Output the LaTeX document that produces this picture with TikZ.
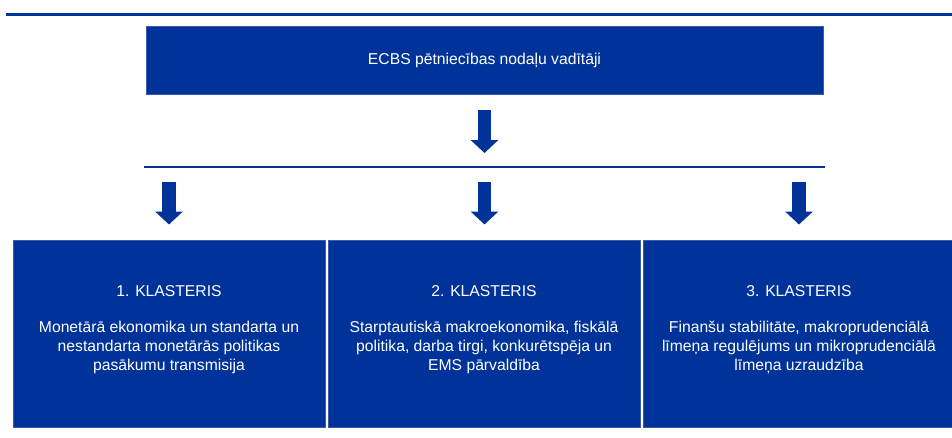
\documentclass[tikz,border=0pt]{standalone}
\usepackage{fontspec}
\setmainfont{Liberation Sans}
\usepackage{xcolor}
\usetikzlibrary{arrows.meta,calc,positioning}
\definecolor{ecbzils}{RGB}{0,51,153}
\definecolor{ecbmala}{RGB}{60,90,170}
\tikzset{
  bloks/.style={fill=ecbzils,draw=ecbmala,line width=0.7pt,inner sep=0pt},
  teksts/.style={text=white,font=\fontsize{15.7}{19}\selectfont,align=center,inner sep=0pt},
  bulta/.style={ecbzils,line width=13.5pt,-{Triangle[width=27pt,length=13pt]}},
  linija/.style={ecbzils,line width=2pt}
}

\begin{document}
\begin{tikzpicture}[x=1pt,y=-1pt]
\useasboundingbox (0,0) rectangle (952,437);
% augšējā līnija
\coordinate (l0) at (6,14);
\coordinate (l1) at (952,14);
\draw[ecbzils,line width=3pt] (l0) -- (l1);
% vadītāju bloks
\node[bloks,minimum width=677pt,minimum height=68pt] (vad) at (484.5,60) {};
\node[teksts] (vadt) at (vad.center) {ECBS pētniecības nodaļu vadītāji};
% bulta uz sadales līniju
\coordinate (b0s) at (484.5,110);
\coordinate (b0e) at (484.5,153);
\draw[bulta] (b0s) -- (b0e);
\coordinate (s0) at (144,167);
\coordinate (s1) at (825,167);
\draw[linija] (s0) -- (s1);
% klasteri
\foreach \i/\x/\bx/\virs/\saturs in {
  1/169/169/1. KLASTERIS/{Monetārā ekonomika un standarta un\\nestandarta monetārās politikas\\pasākumu transmisija},
  2/484.5/484/2. KLASTERIS/{Starptautiskā makroekonomika, fiskālā\\politika, darba tirgi, konkurētspēja un\\EMS pārvaldība},
  3/799/799/3. KLASTERIS/{Finanšu stabilitāte, makroprudenciālā\\līmeņa regulējums un mikroprudenciālā\\līmeņa uzraudzība}}{
  \coordinate (a\i s) at (\x,182);
  \coordinate (a\i e) at (\x,224.5);
  \draw[bulta] (a\i s) -- (a\i e);
  \node[bloks,minimum width=312pt,minimum height=187pt] (k\i) at (\bx,333.5) {};
  \node[teksts,anchor=base] (t\i) at ($(k\i.north)+(0,57)$) {\virs};
  % base ir pēdējās rindas bāzes līnija
  \node[teksts,anchor=base] (c\i) at ($(t\i.base)+(0,74)$) {\saturs};
}
\end{tikzpicture}
\end{document}
